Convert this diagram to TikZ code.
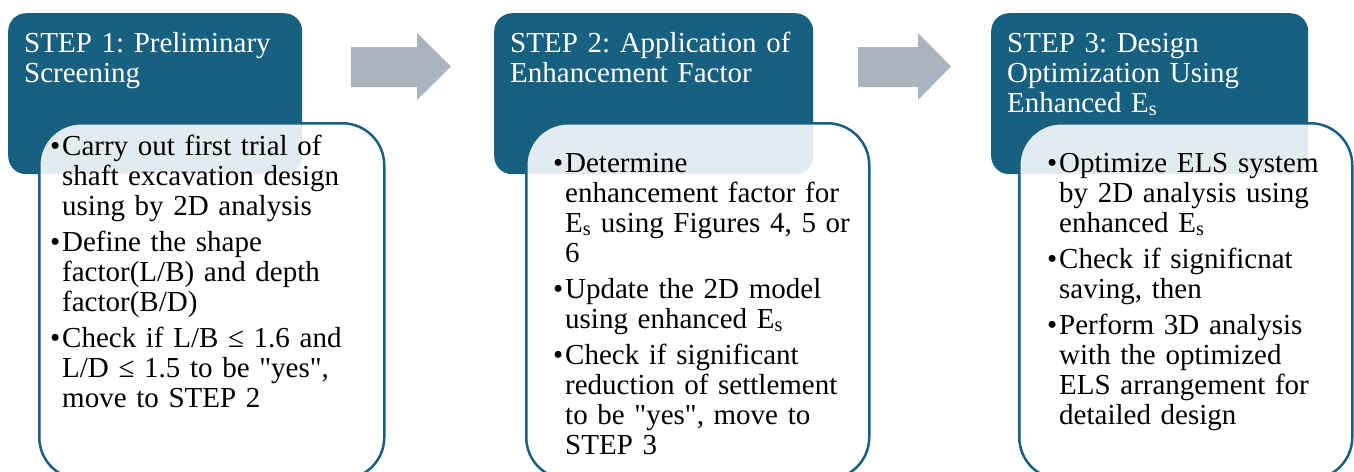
\documentclass[tikz,border=0pt]{standalone}
\usepackage{fontspec}
\setmainfont{Liberation Serif}
\usepackage{xcolor}
\usetikzlibrary{positioning}
\definecolor{stepblue}{HTML}{17607F}
\definecolor{arrowgrey}{HTML}{A9B4BE}
\newcommand{\Es}{E\textsubscript{s}}
\newcommand{\dq}{\textquotedbl}
\newcommand{\bul}{\noindent\hangindent=12pt\hangafter=1\makebox[12pt][l]{\textbullet}}
\frenchspacing

\begin{document}
\begin{tikzpicture}[x=1pt,y=-1pt,
  every node/.style={font=\fontsize{29}{30}\selectfont,inner sep=0pt},
  head/.style={fill=stepblue,rounded corners=18pt,anchor=north west,minimum height=161pt},
  headtext/.style={text=white,anchor=base west,text width=300pt,align=left},
  body/.style={draw=stepblue,line width=2.5pt,fill=white,fill opacity=0.88,rounded corners=42pt,anchor=north west,minimum height=356pt},
  bodytext/.style={anchor=base west,text width=330pt,align=left,execute at begin node={\setlength{\parskip}{6pt}}},
  flow/.style={fill=arrowgrey}]
\useasboundingbox (0,0) rectangle (1354,471);
% step headers
\node[head,minimum width=294pt] (h1) at (8,13) {};
\node[head,minimum width=319pt] (h2) at (494,13) {};
\node[head,minimum width=317pt] (h3) at (991,13) {};
\node[headtext] (h1t) at (24,52) {STEP 1: Preliminary\\Screening};
\node[headtext] (h2t) at (510,52) {STEP 2: Application of\\Enhancement Factor};
\node[headtext] (h3t) at (1007,52) {STEP 3: Design\\Optimization Using\\Enhanced \Es};
% arrows between steps
\fill[flow] (351,47) -- (417,47) -- (417,33) -- (451,66.5) -- (417,100) -- (417,87) -- (351,87) -- cycle;
\fill[flow] (858,47) -- (918,47) -- (918,33) -- (951,66.5) -- (918,100) -- (918,87) -- (858,87) -- cycle;
% detail boxes
\node[body,minimum width=345pt] (b1) at (38,122) {};
\node[body,minimum width=343pt] (b2) at (525,122) {};
\node[body,minimum width=333pt] (b3) at (1018,122) {};
\node[bodytext] (b1t) at (50,155) {%
  \bul Carry out first trial of\newline shaft excavation design\newline using by 2D analysis\par
  \bul Define the shape\newline factor(L/B) and depth\newline factor(B/D)\par
  \bul Check if L/B ≤ 1.6 and\newline L/D ≤ 1.5 to be \dq yes\dq,\newline move to STEP 2\par};
\node[bodytext] (b2t) at (553,172) {%
  \bul Determine\newline enhancement factor for\newline \Es{} using Figures 4, 5 or\newline 6\par
  \bul Update the 2D model\newline using enhanced \Es\par
  \bul Check if significant\newline reduction of settlement\newline to be \dq yes\dq, move to\newline STEP 3\par};
\node[bodytext] (b3t) at (1047,172) {%
  \bul Optimize ELS system\newline by 2D analysis using\newline enhanced \Es\par
  \bul Check if significnat\newline saving, then\par
  \bul Perform 3D analysis\newline with the optimized\newline ELS arrangement for\newline detailed design\par};
\end{tikzpicture}
\end{document}
